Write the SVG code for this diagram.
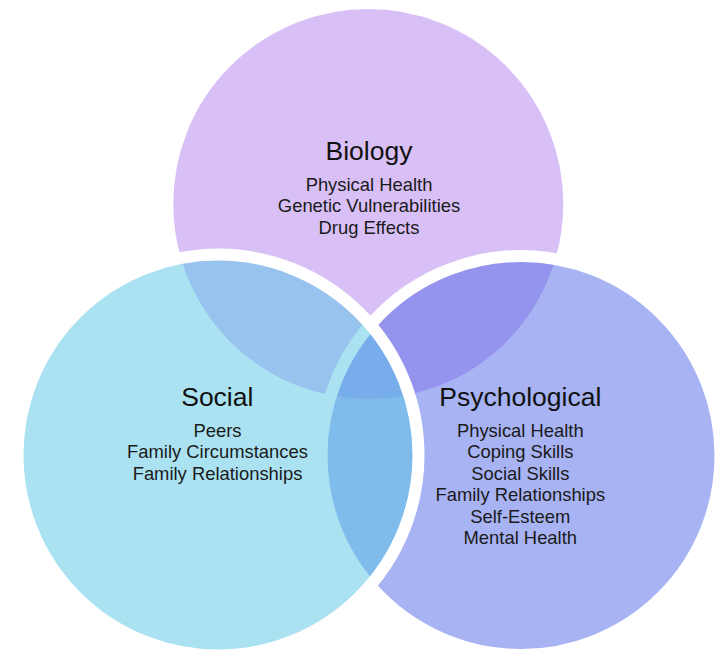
<svg xmlns="http://www.w3.org/2000/svg" width="728" height="650" viewBox="0 0 728 650">
  <style>
    .ring { stroke: #ffffff; stroke-width: 12; }
    .title { font-family: "Liberation Sans", Arial, sans-serif; font-size: 26.5px; fill: #111111; text-anchor: middle; }
    .item { font-family: "Liberation Sans", Arial, sans-serif; font-size: 18.4px; fill: #1a1a1a; text-anchor: middle; }
  </style>
  <rect x="0" y="0" width="728" height="650" fill="#ffffff"/>
  <g id="biology">
    <circle class="ring" cx="368.3" cy="204" r="201" fill="#D8C0F7"/>
    <text class="title" x="369" y="159.5">Biology</text>
    <text class="item" x="369" y="191">Physical Health</text>
    <text class="item" x="369" y="212.3">Genetic Vulnerabilities</text>
    <text class="item" x="369" y="233.5">Drug Effects</text>
  </g>
  <g id="psychological">
    <circle class="ring" cx="521" cy="455.5" r="199.5" fill="#4F67E7" fill-opacity="0.5"/>
    <text class="title" x="520.3" y="405.7">Psychological</text>
    <text class="item" x="520.3" y="436.7">Physical Health</text>
    <text class="item" x="520.3" y="458.2">Coping Skills</text>
    <text class="item" x="520.3" y="479.6">Social Skills</text>
    <text class="item" x="520.3" y="501">Family Relationships</text>
    <text class="item" x="520.3" y="522.5">Self-Esteem</text>
    <text class="item" x="520.3" y="544">Mental Health</text>
  </g>
  <g id="social">
    <circle class="ring" cx="218" cy="455" r="200.5" fill="#57C5E5" fill-opacity="0.5"/>
    <text class="title" x="217.3" y="405.7">Social</text>
    <text class="item" x="217.5" y="436.7">Peers</text>
    <text class="item" x="217.5" y="458.2">Family Circumstances</text>
    <text class="item" x="217.5" y="479.6">Family Relationships</text>
  </g>
</svg>
